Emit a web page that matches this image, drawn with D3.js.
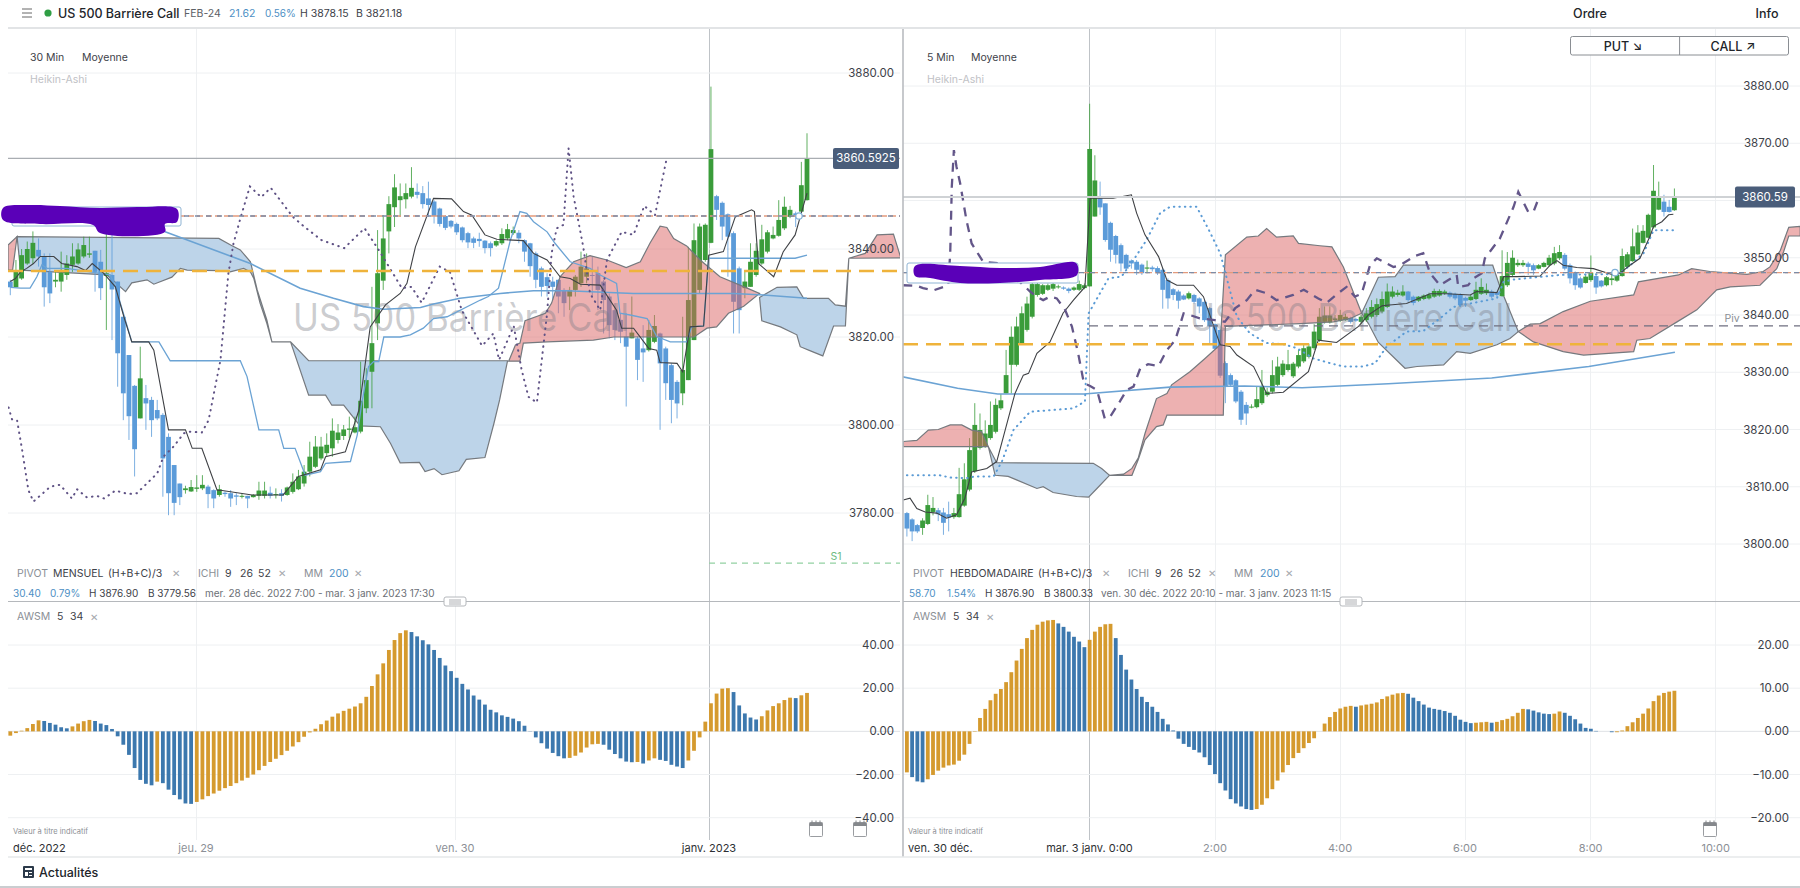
<!DOCTYPE html>
<html lang="fr">
<head>
<meta charset="utf-8">
<title>US 500 Barrière Call</title>
<script src="https://cdn.jsdelivr.net/npm/d3@7.9.0/dist/d3.min.js"></script>
<style>
  html, body { margin: 0; padding: 0; background: #fff; }
  svg { display: block; font-family: Inter, Roboto, sans-serif; }
</style>
</head>
<body>
<svg id="chart" width="1800" height="888"></svg>
<script>
// ---- 30 min pane : heikin-ashi candles [open, close, high, low]
const leftCandles = [
  [3832.6,3831.3,3833,3829.5],[3831.3,3834.8,3837.5,3831.3],[3833.3,3838.6,3840,3833],[3836.7,3840,3841.7,3836.4],
  [3837.9,3841.4,3844,3836.7],[3839.8,3838.3,3842.4,3836],[3838.3,3831.3,3839,3826.9],[3834.8,3829.9,3839,3827.7],
  [3832.6,3833,3834.8,3831.3],[3832.6,3834.6,3839.4,3830.3],[3834.1,3836.7,3838.6,3833],[3836.4,3838.3,3841.3,3834.8],
  [3836.7,3839.9,3841.3,3836.4],[3838.3,3840.9,3842.8,3837.9],[3838.7,3839,3842.8,3838],[3839.6,3834.8,3839.6,3830.3],
  [3837.1,3831.1,3839.8,3828.4],[3833.9,3834.5,3845.5,3821.6],[3834.1,3830.8,3845.8,3819.3],[3832.6,3816.3,3832.6,3808.7],
  [3824.6,3807.2,3824.6,3801.1],[3815.9,3802,3815.9,3796.6],[3808.9,3794.5,3809.1,3788.3],[3801.5,3810.6,3817.8,3801.5],
  [3806.1,3804.9,3809.1,3798.9],[3805.7,3801.1,3806.4,3797.3],[3803.4,3801.5,3805.7,3801.1],[3802.3,3792.4,3802.7,3783.7],
  [3797.3,3784.5,3798.1,3779.5],[3790.9,3782.3,3790.9,3779.5],[3786.7,3783.6,3786.7,3781.8],[3785.2,3785.6,3786.2,3784.4],
  [3784.9,3785.9,3787.5,3784.8],[3785.5,3785.8,3788.6,3784.8],[3785.6,3786.4,3788.6,3785.2],[3786,3784.3,3786.4,3781.1],
  [3785.2,3783.3,3785.4,3781.1],[3784.1,3785.4,3786.4,3783.7],[3784.6,3784.3,3784.9,3783.7],[3784.5,3783.3,3785.2,3781.4],
  [3784,3783.7,3784.5,3781.8],[3783.7,3783.9,3784.5,3783.3],[3783.9,3783.3,3783.9,3781.1],[3783.6,3784.1,3784.3,3783.5],
  [3783.9,3785.1,3787.1,3783],[3783.9,3785.1,3787.1,3783.3],[3784.6,3783.9,3786,3783.3],[3784.1,3784.3,3785.6,3783.3],
  [3784.5,3783.9,3785.4,3782.6],[3784.1,3785.8,3786,3783.9],[3784.8,3787.1,3789,3784.4],[3785.4,3788.3,3789.8,3785.2],
  [3786.7,3789.4,3790.9,3786],[3789.4,3792.8,3796.2,3788.3],[3790.5,3795.1,3797.5,3790.2],[3792.4,3795.1,3797.3,3792],
  [3793.6,3795.5,3798.1,3792.8],[3794.7,3798.7,3801.5,3792.8],[3796.6,3798.3,3800.2,3795.8],[3797.5,3799,3800,3796.6],
  [3798.9,3799.2,3801.9,3797],[3798.3,3799.5,3801.9,3798.1],[3798.5,3805.5,3814.4,3798.1],[3803.8,3810.2,3812.9,3802.7],
  [3812.1,3818.6,3831.4,3803.8],[3823.1,3834.5,3844.3,3819.3],[3832.8,3842.4,3847.7,3830.7],[3844,3850.2,3852,3839],
  [3849.5,3854,3857,3845],[3851.1,3852,3854.9,3847.3],[3851.3,3852.7,3854.9,3849.2],[3851.9,3853.9,3858.6,3851.5],
  [3853,3852.3,3854.9,3851.5],[3852.7,3850.2,3854.3,3849.2],[3851.5,3850,3855.3,3847.3],[3850.8,3847.5,3851.1,3845.8],
  [3849.2,3845.7,3849.4,3845.1],[3847.5,3844.8,3847.7,3844.3],[3846.4,3845.1,3846.6,3844.7],[3845.7,3843.8,3846,3843.2],
  [3844.9,3842,3845.1,3841.5],[3843.6,3841.5,3843.9,3840.2],[3842.4,3841.4,3842.8,3840.2],[3842.3,3841.8,3843.7,3840.5],
  [3841.9,3840.2,3842,3839],[3841.3,3840.2,3841.7,3838.3],[3840.8,3841.8,3842,3840.5],[3841.3,3843.4,3844.7,3840.9],
  [3842.4,3844.5,3845.7,3842],[3843.6,3844.3,3845.1,3843.2],[3843.7,3842.4,3844.3,3841.3],[3842,3839.4,3842.2,3837.1],
  [3841.3,3836.1,3841.4,3833.7],[3839,3833,3839.4,3831.1],[3835.6,3831.4,3836,3829.2],[3833.6,3831.6,3834.5,3829.2],
  [3832.6,3831.4,3833.7,3828.4],[3833,3829.2,3833.1,3825.4],[3830.7,3827.7,3831.1,3824.6],[3829.2,3830.7,3831.4,3826.1],
  [3830.7,3833.7,3834.1,3829.2],[3832.2,3836,3839.4,3831.4],[3833.7,3835.6,3839,3832.2],[3834.1,3833.9,3838.3,3829.2],
  [3834.5,3830.7,3836,3826.1],[3832.6,3828.4,3833,3820.8],[3829.2,3822.7,3829.9,3819.7],[3826.1,3821.6,3827.7,3819.3],
  [3823.9,3821.2,3825.4,3818.6],[3820.1,3817.8,3825.4,3804.2],[3819.7,3821,3829.2,3819.7],[3819.7,3814.8,3820.1,3810.2],
  [3817.4,3816.5,3822.7,3809.8],[3817,3821.6,3823.9,3816.7],[3818.9,3822.5,3825,3818.6],[3820.8,3814,3821,3798.9],
  [3817.4,3809.5,3817.8,3805.7],[3813.6,3805.7,3814,3800.4],[3809.8,3804.9,3810.2,3801.5],[3807.2,3812.5,3824.6,3804.5],
  [3810.2,3828.4,3840.5,3810.2],[3819.3,3842,3845.8,3819.3],[3830.7,3845.1,3845.8,3829.9],[3837.5,3845.5,3845.8,3837.1],
  [3841.4,3862.7,3876.9,3841.3],[3852,3848.9,3852.3,3846.6],[3850.5,3845.1,3850.8,3842],[3847.9,3842.8,3848.1,3833.7],
  [3843.6,3828,3844,3820.8],[3835.6,3826.1,3836,3820.8],[3831.1,3832.6,3834.8,3828.8],[3831.4,3837.1,3841.3,3831.4],
  [3834.1,3839.6,3841.3,3833.7],[3836.7,3842.2,3845.5,3836.4],[3839.4,3843.8,3844.3,3839],[3842.4,3843.2,3845.1,3842.2],
  [3843,3846.6,3851.1,3842.8],[3844.7,3849.6,3851.9,3844.3],[3847.3,3848.9,3849.8,3847],[3848.1,3847.3,3848.5,3845],
  [3848.5,3854.5,3859.8,3848.3],[3851.1,3860.6,3866.3,3851]
];

// ichimoku and average lines, as [bar index, price]
const leftTenkan = [[0,3832.6],[0.9,3833.3],[1.8,3834.8],[2.9,3835.6],[4.1,3836.7],[5.3,3838.3],[7.7,3838.3],[9.1,3836.7],[11.8,3836],[13.3,3835.1],[14.5,3836.7],[16.5,3834.5],[18.6,3831.4],[20.1,3824.6],[21.5,3818.9],[24.5,3818.9],[25.4,3817],[28,3798.9],[31,3798.9],[32.2,3794.7],[33.9,3794.7],[36.6,3785.2],[37.5,3785.1],[42.8,3784.1],[48.3,3784.1],[51,3788.3],[54.9,3789.8],[55.8,3792.8],[59.3,3793.9],[61.7,3803.4],[63.7,3822.3],[66.4,3827.3],[69,3829.9],[70.2,3832.2],[71.7,3840.5],[74.9,3851.5],[78.1,3851.4],[80.2,3848.5],[81.7,3847.7],[84,3843.2],[86.1,3842.2],[90.8,3841.9],[92.6,3839],[95,3837.5],[97.3,3833.7],[99.1,3833.3],[100.9,3832],[104.4,3831.8],[107.3,3826.1],[108.2,3822],[110.3,3822],[113,3817.4],[114.4,3817],[115,3814.2],[118,3814],[119,3812.1],[120.3,3822.3],[122.7,3822.5],[123.6,3838.6],[126.2,3839.4],[128.3,3847.3],[131.2,3848.9],[131.7,3848.5],[132.4,3836.7],[135.1,3833.7],[136.8,3839.4],[138.9,3843.2],[139.8,3847.3],[141,3852.7]];
const leftKijun = [[0,3831.3],[1.8,3831.1],[3.5,3831.1],[4.7,3833.7],[5.6,3836.4],[6.5,3835.6],[10,3835.6],[17.7,3834.1],[18.6,3831.4],[20.1,3825],[21.5,3818.9],[26.3,3818.9],[28.3,3814.6],[40.7,3814.6],[41.9,3811],[44,3798.9],[47.5,3798.9],[48.4,3794.7],[50.4,3794.7],[52.2,3788.6],[54.9,3789.4],[55.8,3791.3],[60.2,3791.7],[61.4,3797.7],[62.2,3804.9],[63.4,3813.3],[64.3,3814.4],[65.2,3814.4],[66.1,3820],[69,3820],[70.8,3820.5],[73.1,3822],[74.9,3824.2],[77.3,3824.6],[83.2,3828.4],[84.6,3829.2],[86.4,3831.1],[88.5,3842],[90.2,3848.5],[91.4,3848.1],[92.6,3846.2],[95,3843.9],[96.4,3841.3],[99.1,3837.1],[102.6,3835.6],[104.4,3834.1],[107.3,3832.2],[107.9,3825.4],[109.7,3825],[112.7,3824.2],[114.4,3820.1],[116.8,3818.9],[119.7,3818.9],[120.6,3822.3],[122.7,3822.5],[123.6,3837.9],[138.9,3837.9],[141,3838.6]];
const leftChikou = [[-0.3,3804],[0.3,3801.3],[1.2,3801.1],[2.1,3794.3],[3.2,3785.2],[4.1,3782.6],[7.1,3786],[8.8,3786.4],[10.9,3783.3],[11.8,3785.4],[13.6,3783.5],[15.3,3783.9],[16.6,3783.3],[18.6,3785.1],[20.9,3784.3],[22.4,3784.5],[26,3789],[27.1,3792.8],[28.9,3795.1],[30.7,3798.1],[31.6,3798.5],[33.9,3798.3],[35.1,3801.1],[37.2,3814.8],[38.6,3834.5],[39.5,3841.3],[40.8,3847.3],[42.4,3854.2],[44.4,3851.8],[46.1,3853.9],[50,3847.3],[52,3845.1],[55.1,3842],[59.1,3840.2],[62.7,3844.7],[65.2,3839.8],[69.3,3831.1],[71,3831.4],[72.8,3827.8],[76,3836],[77.8,3834.8],[79.9,3826.1],[83.5,3818],[85.5,3820.8],[86.5,3814.8],[89.1,3822.5],[90.5,3812.5],[91.7,3806.4],[93.2,3805.1],[95,3825.4],[95.8,3839],[96.7,3844.7],[97.9,3845.5],[98.8,3862.9],[99.7,3851.9],[101.4,3840.5],[102.6,3829.9],[104.4,3826.1],[105.6,3837.5],[108.2,3843.9],[110.3,3843.2],[112.2,3849.8],[114.1,3847.7],[116.1,3860.2]];
const leftMM200 = [[27.4,3843.9],[42.5,3836.7],[51.3,3831.1],[57.2,3828.8],[62.5,3826.9],[66.1,3826.3],[72.6,3826.7],[74.9,3827.5],[79.6,3828.8],[86.7,3829.9],[92.6,3830.5],[98.5,3830.5],[110.3,3829.9],[128,3829.9],[133.9,3829.5],[141,3828.8]];

// cloud patches, upper edge then lower edge
const leftCloudRed1Top = [[-0.4,3840.9],[1.2,3842.8]];
const leftCloudRed1Low = [[-0.4,3835.2],[0.4,3835.2],[1.2,3842.8]];
const leftCloudBlue1Top = [[1.2,3842.8],[36.9,3842.4],[39,3840.9],[40.7,3839.8],[42.5,3837.1],[43.7,3830.7],[45.4,3823.9],[46.3,3818.9],[49.6,3818.9],[52.8,3814.6],[88,3814.6]];
const leftCloudBlue1Low = [[1.2,3842.8],[1.8,3835.2],[17.1,3834.1],[20.4,3830.3],[21.5,3832.3],[24.2,3833],[25.4,3832],[28.6,3833.6],[30.1,3835.6],[31.3,3835.2],[37.2,3835.1],[38.9,3834.8],[41.3,3835.6],[42.5,3834.8],[43.1,3833.3],[44.2,3827.7],[45.4,3823.1],[46.3,3818.9],[49.6,3818.9],[52.8,3806.8],[55.8,3806.8],[56.9,3804.5],[59,3804.5],[61.9,3799.8],[65.5,3799.6],[67.3,3795.8],[69,3791.4],[72.4,3791.5],[73.4,3789.4],[75,3790.1],[76.4,3788.7],[79.4,3789.6],[80.7,3792.2],[84,3792.6],[85.6,3800.4],[86.6,3805.7],[88,3814.6]];
const leftCloudRed2Top = [[88.2,3814.5],[89.4,3818.2],[90.2,3818.6],[91.1,3823.7],[94.7,3825.4],[95.8,3827.7],[97.3,3833.7],[99.7,3837.1],[102.6,3838.5],[105.6,3837.5],[109,3835.8],[111.5,3837.1],[113.2,3841.3],[115,3845.2],[116.2,3844.9],[117.4,3842.4],[119.7,3840.7],[122.1,3837.5],[125.6,3833.7],[130.4,3831.1],[132.6,3829.9]];
const leftCloudRed2Low = [[88.2,3814.5],[90.2,3814.5],[90.8,3818.6],[95,3818.9],[103.2,3819.3],[106.8,3820],[121,3820],[123.3,3822],[125,3822.3],[127.1,3825.4],[129.8,3827],[132.6,3829.9]];
const leftCloudBlue2Top = [[132.6,3829],[135.7,3831.3],[139.2,3831.4],[140.4,3828.8],[144.8,3828.8],[146,3827.3],[147.8,3827]];
const leftCloudBlue2Low = [[132.6,3829],[133,3823.7],[136.3,3822.3],[139.2,3820.5],[139.8,3817.8],[141.5,3816.9],[143.8,3815.7],[145.7,3822.5],[147.8,3822.5],[148.4,3837.9],[147.8,3827]];
const leftCloudRed3Top = [[148.4,3837.9],[151.3,3839],[153.4,3843.2],[156.3,3843.4],[157.6,3838]];
const leftCloudRed3Low = [[148.4,3837.9],[157.6,3838]];

// awesome oscillator under the 30 min pane
const leftAwsm = [-2,-0.8,0.3,1.5,3.4,5.1,4.8,3.9,3.1,1.9,1.4,2.3,3.6,4.7,5.3,4.8,3.6,2.9,1.1,-2.3,-6.2,-10.9,-17,-22.5,-24.3,-25,-23.3,-24,-27,-29.5,-31.5,-33.4,-33.6,-32.7,-31.5,-30,-28.8,-27.5,-26.3,-25.3,-24,-22.8,-21.5,-20,-18,-16,-14.2,-12.7,-11,-9,-7,-5,-2.5,-0.5,1.2,3.3,5,6.8,8.3,9.5,10.5,11.5,13,16,21,26.4,31.5,37.7,42.3,45.5,46.8,46,44,42.2,40.3,37.7,34,30.5,27.9,24.8,22,19.4,16.6,14.7,12.4,10,8.8,7.4,6.7,5.9,4.7,2.6,0.1,-2.8,-5.5,-8,-10,-11.5,-12.5,-12.3,-11.3,-9.8,-7.5,-6,-5.8,-6.2,-8.5,-10.5,-12.5,-14,-14.3,-14.2,-14.9,-13.5,-12.5,-13.2,-13.7,-15.5,-16.3,-17,-13.5,-9,-2.8,4.5,13,17.5,19.8,20,18.2,12,8.3,6.4,5.5,7,9.7,11.7,13,14.5,15.6,15.4,16.7,17.8];

const leftPriceTicks = [3880, 3840, 3820, 3800, 3780];
const leftAwsmTicks = [40, 20, 0, -20, -40];
const leftLastPrice = 3860.5925;
const leftPivot = 3847.5;
const leftOrangeLevel = 3835;
const leftS1 = 3768.6;

// ---- 5 min pane
const rightCandles = [
  [3805.4,3802.7,3805.6,3801.3],[3804.3,3802.2,3804.5,3800.5],[3803.3,3802.2,3803.5,3801.9],[3802.8,3804.1,3804.5,3801.6],
  [3803.5,3806.8,3808.6,3803.3],[3805.6,3806.3,3808.2,3805],[3805.9,3805.2,3806.3,3804],[3805.5,3803.7,3806.3,3801.6],
  [3805.2,3804.6,3807.4,3802.2],[3804.7,3805.4,3806.3,3804.4],[3804.7,3808.7,3813.3,3804.6],[3806.7,3811.3,3814.1,3806.5],
  [3809.5,3816.4,3818.5,3809.2],[3812.7,3820.8,3824.6,3812.4],[3816.8,3819.9,3822.8,3816.5],[3817,3819.3,3821.6,3816.8],
  [3818.5,3820.8,3824.9,3818.2],[3819.6,3824.3,3825.4,3819.3],[3823.7,3825.1,3826.2,3823.4],[3826.3,3829.5,3833.9,3826.3],
  [3831.3,3836.2,3838,3826.3],[3831.3,3838,3839.7,3831],[3835,3840.3,3841.5,3834.8],[3837.4,3842,3843.2,3837.1],
  [3839.7,3845.4,3845.8,3839.4],[3843.5,3845.4,3845.7,3843.2],[3843.7,3845.2,3845.4,3843.5],[3844.4,3845.2,3845.5,3844.2],
  [3844.6,3845.4,3845.7,3844.2],[3844.9,3845,3845.3,3844.6],[3844.8,3844.6,3845,3844.4],[3844.6,3844.2,3844.8,3843.8],
  [3844.4,3844.8,3845,3844.2],[3844.4,3845.4,3846,3844.2],[3844.7,3845.2,3845.5,3844.5],[3845,3869,3876.9,3845],
  [3857.2,3863.5,3867.9,3857.2],[3860.4,3858.8,3863.3,3857.5],[3859.5,3853.1,3859.5,3852.8],[3856.1,3851.4,3856.3,3849.3],
  [3853.8,3850.5,3854,3849],[3852.2,3849,3852.5,3847.6],[3850.5,3848.1,3850.7,3847.9],[3849.5,3849,3849.7,3848.1],
  [3849.3,3847.9,3849.6,3847],[3848.8,3847.3,3849,3847],[3848.1,3848.3,3849.5,3847.3],[3848.3,3848,3848.6,3847.6],
  [3848.2,3847.3,3848.5,3847],[3847.9,3844.4,3848.2,3841.1],[3846.1,3842.9,3846.4,3841.1],[3844.5,3843.5,3844.7,3842.6],
  [3844.1,3842.5,3844.4,3841.1],[3843.4,3842.7,3843.6,3842.6],[3842.9,3843.8,3844.1,3842.7],[3843.5,3842.3,3843.7,3842],
  [3842.9,3841.5,3843.1,3840.3],[3842.3,3839.1,3842.6,3838.8],[3841.2,3838,3841.4,3835.1],[3838.4,3834.1,3838.5,3834.1],
  [3837.4,3829.4,3837.5,3829],[3831.6,3827.5,3831.9,3824.6],[3829.5,3827.8,3829.8,3827.5],[3828.6,3824.9,3828.8,3824.6],
  [3826.6,3821.7,3826.9,3820.8],[3824.3,3822.8,3824.8,3820.8],[3823.9,3824,3824.4,3823.7],[3823.9,3825.3,3827.5,3823.7],
  [3824.6,3827.5,3830.4,3824.3],[3826,3826.6,3827.3,3825.7],[3826.6,3829.5,3832.1,3826.3],[3827.8,3831,3832.7,3827.5],
  [3829.5,3831.5,3832.1,3829.2],[3830.4,3831.4,3833.9,3830.1],[3829.3,3831.5,3831.8,3829],[3831,3833,3833.9,3830.7],
  [3831.9,3834.2,3834.8,3831.6],[3832.7,3834.5,3835,3832.4],[3834.2,3837.1,3838.4,3833.9],[3835.6,3839.7,3841.2,3835.3],
  [3838.8,3839.9,3841.5,3838.5],[3838.7,3839.9,3841.5,3838.5],[3839.1,3839.4,3840,3838.8],[3839,3840,3840.9,3838.8],
  [3839.1,3839.7,3840.2,3839],[3839.5,3838.8,3839.7,3838.5],[3839.3,3839,3839.5,3838.8],[3838.8,3839.7,3840,3838.5],
  [3839.1,3840.3,3841.2,3838.8],[3839.7,3841.4,3842.6,3839.4],[3840,3841.9,3842.9,3839.7],[3840.6,3842.8,3844.1,3840.3],
  [3841.4,3844.1,3845.5,3841.2],[3843.2,3844.1,3845,3842.9],[3843.5,3843.9,3844.4,3843.2],[3843.4,3844.1,3845.2,3843.2],
  [3844.1,3842.6,3844.2,3842.3],[3843.2,3842.1,3843.4,3841.7],[3842.5,3843.2,3843.3,3842.3],[3842.8,3843.4,3843.6,3842.6],
  [3842.9,3843.6,3843.9,3842.7],[3843.2,3844.2,3844.6,3843],[3843.4,3844.2,3844.5,3843.2],[3843.8,3844.1,3844.4,3843.5],
  [3843.9,3843.2,3844.1,3842.9],[3843.7,3842.9,3843.9,3842.6],[3843.5,3841.7,3843.8,3841.4],[3843,3842.5,3843.2,3841.4],
  [3842.6,3843.2,3843.5,3842.5],[3842.8,3844.4,3845.8,3842.6],[3843.7,3844.9,3846.4,3843.5],[3843.8,3844.4,3845.5,3843.5],
  [3844.1,3843.2,3844.4,3842.9],[3843.9,3843.5,3844.1,3843.2],[3843.3,3846.8,3851.3,3843.2],[3845.2,3849.1,3851,3844.9],
  [3847,3850,3851.3,3846.7],[3848.7,3849.1,3849.7,3848.4],[3848.7,3849.1,3849.6,3848.4],[3849,3848.4,3849.3,3847],
  [3848.7,3847.8,3849,3847],[3848.1,3848.7,3848.9,3848],[3848.4,3849.1,3849.3,3848.3],[3848.7,3850,3850.5,3848.5],
  [3849,3850.8,3851.9,3848.7],[3849.9,3851,3852.2,3849.6],[3850.5,3848.1,3850.8,3847.8],[3848.7,3846.4,3849,3845.5],
  [3847.4,3845.2,3847.6,3844.4],[3846.4,3844.8,3846.7,3844.6],[3845.6,3846.7,3847,3845.5],[3846.1,3847.4,3850.4,3845.8],
  [3846.8,3844.8,3847,3843.7],[3846,3845,3846.1,3844.8],[3845.2,3846.6,3846.8,3845],[3846.1,3846.4,3847.3,3845.2],
  [3846,3847,3847.3,3845.8],[3846.8,3850.3,3851.6,3846.7],[3848.4,3850.6,3851,3848.3],[3849.4,3852,3855.1,3849.3],
  [3850.6,3854.4,3855.7,3850.5],[3852.6,3854.7,3855.7,3852.5],[3853.5,3857.5,3857.7,3853.4],[3855.3,3861.7,3866.2,3855.1],
  [3858.4,3860.7,3863.3,3858.3],[3859.8,3858,3861,3857.2],[3858.9,3858,3860.1,3857.9],[3858.3,3860.6,3862.1,3858.2]
];

const rightTenkan = [[-0.7,3807.7],[0.6,3808],[1.9,3806.2],[3.5,3805.6],[5.7,3805.4],[7.6,3804.5],[9.5,3805.1],[11.1,3808],[12.4,3812.6],[15.3,3813.2],[17.2,3814.4],[18.5,3818.8],[20.7,3826.3],[22.3,3829.5],[23.3,3829.8],[24.9,3833.3],[27.4,3835.3],[29.9,3840.3],[31.9,3842.6],[34.1,3844.9],[35.1,3860.4],[39.5,3860.4],[43,3861],[44,3857.8],[45.6,3854],[48.2,3850.2],[49.8,3846.1],[51.7,3845.2],[54.9,3845.2],[56.8,3843.2],[60,3834.8],[61.9,3834.5],[63.2,3833],[66.4,3831],[68.9,3826.3],[72.1,3826.5],[76.9,3830.1],[78.8,3835.6],[82.3,3835.2],[86.5,3838],[88.4,3840],[91,3841.6],[91.9,3841.7],[95.7,3842],[100.2,3843.7],[103.4,3843.7],[107.9,3843.5],[109.1,3844.1],[113,3843.9],[114.3,3846.7],[116.8,3846.7],[121.3,3846.8],[123.2,3848.7],[124.5,3849.5],[125.7,3848.7],[128.3,3848.3],[131.5,3848.1],[135.3,3847],[136.6,3847.3],[138.5,3848.7],[140.4,3849.9],[142.3,3853.7],[143,3855.5],[144.6,3856.3],[145.9,3857.5],[146.8,3857.6]];
const rightKijun = [[0,3812],[6.3,3812],[8.3,3811.6],[11.4,3811.5],[13,3811.8],[16.6,3811.8],[18.2,3814.4],[20.4,3819.9],[23.6,3823.1],[31.9,3823.7],[34.1,3824.9],[34.8,3840.3],[38.6,3846.4],[41.1,3846.7],[43.4,3849.6],[45.9,3853.1],[48.5,3857.8],[50.4,3858.9],[55.5,3858.9],[57.7,3855.1],[60,3850.8],[61,3847.3],[63.2,3839.7],[65.7,3836.8],[68.9,3835.1],[72.1,3834.9],[74.7,3834.2],[77.9,3832.4],[81,3831.6],[83.6,3831],[87.4,3831],[89.7,3831.6],[91.9,3834.5],[95.7,3837.1],[98.9,3837.2],[102.1,3839.4],[104.7,3841.4],[107.9,3842],[113,3842.9],[114.3,3845.8],[116.2,3846.2],[125.1,3847],[131.5,3847.1],[136,3847.1],[138.2,3848.4],[141.1,3850.8],[143,3854.8],[146.8,3854.8]];
const rightChikou = [[-0.7,3845.2],[1.9,3845.1],[3.1,3844.7],[5.1,3844.3],[7.9,3845.2],[8.3,3850.8],[8.6,3862.4],[9,3868.8],[9.5,3865.9],[10.2,3863],[11.4,3856.6],[12.4,3852.5],[14.6,3849.3],[17.8,3849],[23.6,3844.1],[24.9,3843.2],[26.1,3842.6],[27.4,3843.2],[28.7,3842.9],[30.3,3840.9],[31.6,3838],[32.8,3833.3],[33.9,3828.1],[35.1,3827.6],[36.4,3826.9],[37.9,3821.9],[38.9,3822.2],[40.8,3824.9],[42.1,3826.9],[43.4,3827.5],[44.7,3830.7],[46.2,3831.4],[48.2,3831.1],[49.8,3833.9],[51.4,3835.6],[53,3840.3],[54.2,3840],[56.1,3839.4],[59,3839.1],[60.9,3838.8],[62.9,3841.2],[65.1,3842.6],[66.7,3844.4],[68.9,3843.8],[70.8,3842.6],[74,3843.5],[76,3844.4],[78.8,3842.9],[80.4,3842.1],[82.6,3843.8],[84.2,3844.9],[85.8,3843.2],[87.1,3843.7],[88.7,3848.7],[90,3849.9],[93.2,3848.4],[94.5,3848.7],[97.3,3850.3],[98.9,3850.8],[100.2,3847.3],[102.1,3845.2],[105.3,3847],[105.6,3844.9],[107.5,3845.2],[108.5,3846.4],[110.1,3847.3],[110.7,3849.9],[113.6,3853.4],[116.2,3858.9],[117.1,3861.5],[119,3858],[120,3858],[121,3860.4]];
const rightMM200 = [[-0.8,3829.2],[9.7,3827.2],[17.4,3826.2],[33.9,3826.2],[50.4,3827.4],[64.7,3827.6],[75.7,3827.3],[92.2,3828],[112,3829],[130.6,3831],[147.1,3833.5]];

const rightCloudRed1Top = [[-0.7,3817.9],[1.9,3818.1],[4.1,3819.9],[6,3820],[8.3,3820.8],[10.5,3820.8],[12.4,3819.9],[14.3,3819.6],[15.6,3817]];
const rightCloudRed1Low = [[-0.7,3817],[15.6,3817]];
const rightCloudBlue1Top = [[15.6,3817],[17.2,3814.2],[35.7,3814.1],[37.3,3813.2],[38.8,3812]];
const rightCloudBlue1Low = [[15.6,3817],[16.9,3812],[19.4,3811.8],[21,3811.2],[24.9,3809.7],[26.1,3810],[28,3809],[32.5,3808.3],[34.8,3808.2],[36.4,3809.7],[38.8,3812]];
const rightCloudRed2Top = [[38.8,3812],[41.5,3812.2],[43.1,3813.2],[44.3,3815],[45.6,3819.3],[47.8,3825.4],[49.8,3826.3],[50.7,3827.8],[54.2,3830.1],[57.1,3832.4],[60,3834.8],[61,3850.5],[65.1,3853.6],[67.3,3853.8],[68.9,3855.1],[70.8,3853.6],[74,3853.8],[75,3852.5],[79.1,3852.1],[81.4,3851.9],[83.6,3848.4],[87.1,3840.3]];
const rightCloudRed2Low = [[38.8,3812],[43.1,3812],[44.3,3814.7],[45.6,3818.2],[47.8,3820.5],[49.1,3820.8],[49.8,3822.5],[60.6,3822.5],[61,3838],[75.3,3838.5],[81.7,3838.8],[84.9,3839.4],[87.1,3840.3]];
const rightCloudBlue2Top = [[87.1,3840.3],[90.3,3846.6],[93.5,3846.7],[95.1,3848.7],[112.2,3848.7],[113.6,3844.9],[117.1,3837.1]];
const rightCloudBlue2Low = [[87.1,3840.3],[88.4,3838.5],[90.3,3835.2],[95.4,3830.7],[97.7,3831],[102.8,3831.3],[105.3,3833.6],[107.9,3833.3],[113,3834.8],[115.5,3835.9],[117.1,3837.1]];
const rightCloudRed3Top = [[117.1,3837.1],[119.4,3838.4],[121.3,3838.5],[125.7,3840.6],[130.9,3842.4],[139.2,3843.5],[140.1,3845.8],[147.8,3847],[150.3,3848.1],[153.8,3847.6],[160.9,3847.1],[164,3847.6],[165.3,3848.4],[167.3,3851.3],[168.9,3855.3],[171.1,3855.5]];
const rightCloudRed3Low = [[117.1,3837.1],[120,3835.3],[125.7,3833.6],[129.6,3833],[139.2,3833.6],[139.8,3835.6],[142.3,3835.9],[147.5,3838.8],[151.3,3840.9],[155.1,3844.4],[157.7,3844.9],[163.4,3845.2],[166.6,3848.1],[167.9,3851],[168.9,3853.8],[171.1,3853.8]];

const rightAwsm = [-9.5,-10.6,-11.6,-11.8,-11.1,-10.1,-9.1,-8.4,-7.9,-7.7,-6.8,-5.4,-2.9,-0.1,3.1,5.2,7.2,8.7,9.8,11.4,13.7,16.4,19.1,21.6,23.5,24.7,25.4,25.7,25.8,25,24.2,23.1,21.9,20.8,19.5,21.2,23.1,24.2,24.8,24.9,21.6,17.7,14.3,12,9.8,8,6.8,5.7,4.5,2.9,1.6,0.2,-1.7,-2.9,-3.6,-4.3,-4.9,-6,-7.8,-9.9,-12,-13.7,-15.7,-16.7,-17.4,-18,-18.2,-18,-17,-15.5,-13.4,-11.4,-9.5,-7.8,-6.2,-5,-3.9,-2.7,-1.6,0,1.8,3.3,4.5,5.3,5.7,5.9,5.7,6,6.2,6.4,6.7,7.5,8.1,8.5,8.8,8.9,8.7,7.8,7,6.2,5.5,5.2,5,4.7,4.3,3.6,2.7,2.2,1.9,2,2.1,2.2,2,2.2,2.6,2.9,3.5,4.3,5.2,5.1,4.8,4.4,4.1,4,4.1,4.6,4.3,3.6,2.8,1.8,0.8,0.6,0.1,0,0,-0.2,-0.2,0.2,1.2,2.1,3.1,4.1,5.3,7,8.3,8.9,9.2,9.4];

const rightPriceTicks = [3880, 3870, 3850, 3840, 3830, 3820, 3810, 3800];
const rightAwsmTicks = [20, 10, 0, -10, -20];
const rightLastPrice = 3860.59;
const rightPivot = 3847.4;
const rightOrangeLevel = 3834.9;
const rightPiv = 3838.1;

// time axis labels
const leftDateLabels = [['jeu. 29', 196, false], ['ven. 30', 455, false], ['janv. 2023', 709, true]];
const rightDateLabels = [['mar. 3 janv. 0:00', 1089.5, true], ['2:00', 1215, false], ['4:00', 1340, false], ['6:00', 1465, false], ['8:00', 1590.6, false], ['10:00', 1715.7, false]];

const GREEN = '#3a9c3a', BLUE = '#5b9bd9', GOLD = '#d59a2e', BAR_BLUE = '#3c78ae';
const CLOUD_RED = 'rgba(220,100,100,0.5)', CLOUD_BLUE = '#bdd4e9', CLOUD_EDGE = '#75797e';
const LABEL = '#3d4148', MUTED = '#8b8f96', STAT = '#4d8fc4', CROSS = '#a4a8ad';

const svg = d3.select('#chart');

function text(sel, x, y, str, opts = {}) {
  return sel.append('text')
    .attr('x', x).attr('y', y)
    .attr('font-size', opts.size || 11)
    .attr('font-weight', opts.weight || 400)
    .attr('fill', opts.fill || LABEL)
    .attr('text-anchor', opts.anchor || 'start')
    .attr('dominant-baseline', 'central')
    .text(str);
}

function calendar(sel, x, y) {
  sel.append('rect').attr('x', x - 6.5).attr('y', y - 6.5).attr('width', 13).attr('height', 14).attr('fill', '#fff').attr('stroke', '#9a9da1').attr('rx', 1);
  sel.append('rect').attr('x', x - 6.5).attr('y', y - 6.5).attr('width', 13).attr('height', 3.5).attr('fill', '#85888c');
  [-4, 0, 4].forEach((dx) => sel.append('line').attr('x1', x + dx).attr('x2', x + dx).attr('y1', y - 8.5).attr('y2', y - 5).attr('stroke', '#85888c'));
}

// legends keep their little crosses centred on the place they were read from
function legendRow(g, rows, y, size) {
  rows.forEach((d) => {
    if (d[1] === '✕') text(g, d[0], y, d[1], { size: 10, fill: CROSS, anchor: 'middle' });
    else text(g, d[0], y, d[1], { size: size, fill: d[2] || LABEL });
  });
}

// draws one pane : price chart with clouds plus the oscillator below
function drawPane(p) {
  const g = svg.append('g');
  const x = d3.scaleLinear().domain([0, p.candles.length - 1]).range(p.xRange);
  const y = d3.scaleLinear().domain(p.yDomain).range(p.yRange);
  const yOsc = d3.scaleLinear().domain(p.oscDomain).range(p.oscRange);

  const clipId = 'clip' + p.name;
  svg.append('clipPath').attr('id', clipId).append('rect')
    .attr('x', p.left).attr('y', 28).attr('width', p.right - p.left).attr('height', 574);
  const plot = g.append('g').attr('clip-path', `url(#${clipId})`);

  // grid
  const grid = g.insert('g', ':first-child');
  p.gridX.forEach((gx) => {
    grid.append('line').attr('x1', gx).attr('x2', gx).attr('y1', 28).attr('y2', 840).attr('stroke', '#eef0f2');
  });
  grid.append('line').attr('x1', p.strongX).attr('x2', p.strongX).attr('y1', 28).attr('y2', 840).attr('stroke', '#bfc3c7');
  const allTicks = p.priceTicks.concat(p.hiddenTicks || []);
  allTicks.forEach((t) => {
    grid.append('line').attr('x1', p.left).attr('x2', p.right).attr('y1', y(t)).attr('y2', y(t)).attr('stroke', '#eef0f2');
  });
  p.oscTicks.forEach((t) => {
    grid.append('line').attr('x1', p.left).attr('x2', p.right).attr('y1', yOsc(t)).attr('y2', yOsc(t)).attr('stroke', t === 0 ? '#dfe2e5' : '#eef0f2');
  });

  const line = d3.line().x((d) => x(d[0])).y((d) => y(d[1]));
  const cloud = (top, low, fill) => {
    plot.append('path')
      .attr('d', line(top.concat(low.slice().reverse())) + 'Z')
      .attr('fill', fill).attr('stroke', CLOUD_EDGE).attr('stroke-width', 1.2);
  };

  // blue clouds sit under the candles, the red ones tint them
  p.blueClouds.forEach((c) => cloud(c[0], c[1], CLOUD_BLUE));

  // wicks and bodies
  plot.selectAll('line.wick').data(p.candles).join('line')
    .attr('class', 'wick')
    .attr('x1', (d, i) => x(i)).attr('x2', (d, i) => x(i))
    .attr('y1', (d) => y(d[2])).attr('y2', (d) => y(d[3]))
    .attr('stroke', (d) => (d[1] >= d[0] ? GREEN : BLUE))
    .attr('stroke-opacity', 0.8);
  plot.selectAll('rect.body').data(p.candles).join('rect')
    .attr('class', 'body')
    .attr('x', (d, i) => x(i) - 2.4).attr('width', 4.8)
    .attr('y', (d) => y(Math.max(d[0], d[1])))
    .attr('height', (d) => Math.max(1, Math.abs(y(d[0]) - y(d[1]))))
    .attr('fill', (d) => (d[1] >= d[0] ? GREEN : BLUE));

  p.redClouds.forEach((c) => cloud(c[0], c[1], CLOUD_RED));

  // watermark shows through everything
  text(plot, p.watermarkX, 317, 'US 500 Barrière Call', { size: 38, fill: 'rgba(120,122,132,0.38)' })
    .attr('textLength', p.watermarkW).attr('lengthAdjust', 'spacingAndGlyphs');

  // indicator lines
  const stroke = (pts, color, width, dash, cap) => {
    plot.append('path').attr('d', line(pts)).attr('fill', 'none')
      .attr('stroke', color).attr('stroke-width', width)
      .attr('stroke-dasharray', dash || null)
      .attr('stroke-linecap', cap || 'butt');
  };
  stroke(p.mm200, '#6ba3d4', 1.6);
  stroke(p.kijun, p.kijunStyle.color, p.kijunStyle.width, p.kijunStyle.dash, p.kijunStyle.cap);
  stroke(p.tenkan, '#3f4145', 1.1);
  stroke(p.chikou, p.chikouStyle.color, p.chikouStyle.width, p.chikouStyle.dash, p.chikouStyle.cap);

  // horizontal levels
  const hline = (v, color, width, dash, x1) => {
    plot.append('line').attr('x1', x1 === undefined ? p.left : x1).attr('x2', p.right)
      .attr('y1', y(v)).attr('y2', y(v)).attr('stroke', color)
      .attr('stroke-width', width).attr('stroke-dasharray', dash || null);
  };
  hline(p.last, p.lastColor, p.lastWidth);
  hline(p.pivot, '#e39a7c', 1.4, '6 3');
  hline(p.pivot, '#7c8ca6', 1.4, '5 6');
  hline(p.orange, '#efb33b', 2.6, '15 8');
  if (p.extraLevels) p.extraLevels(hline, y);

  // small marker where the last pivot meets the average
  plot.append('circle').attr('cx', p.markerX).attr('cy', y(p.pivot)).attr('r', 3.2)
    .attr('fill', '#fff').attr('stroke', '#7fb0d8').attr('stroke-width', 1.2);

  // price axis
  p.priceTicks.forEach((t) => {
    text(g, p.axisX, y(t), d3.format('.2f')(t), { anchor: 'end', size: 11.5 });
  });
  g.append('rect').attr('x', p.lastBox[0]).attr('y', y(p.last) - 10.5).attr('width', p.lastBox[1]).attr('height', 21).attr('rx', 2).attr('fill', '#4a5d7a');
  text(g, p.lastBox[0] + p.lastBox[1] / 2, y(p.last), p.lastLabel, { anchor: 'middle', fill: '#fff', size: 11.5 });

  // oscillator, gold when it rises and blue when it falls
  g.selectAll('rect.awsm').data(p.awsm).join('rect')
    .attr('class', 'awsm')
    .attr('x', (d, i) => x(i) - 1.9).attr('width', 3.8)
    .attr('y', (d) => Math.min(yOsc(d), yOsc(0)))
    .attr('height', (d) => Math.abs(yOsc(d) - yOsc(0)))
    .attr('fill', (d, i) => (i === 0 || d >= p.awsm[i - 1] ? GOLD : BAR_BLUE));
  p.oscTicks.forEach((t) => {
    text(g, p.axisX, yOsc(t), d3.format('.2f')(t), { anchor: 'end', size: 11.5 });
  });

  // pane separator with handle
  g.append('line').attr('x1', p.left).attr('x2', p.right).attr('y1', 601.5).attr('y2', 601.5).attr('stroke', '#b5b8bc').attr('stroke-width', 1.2);
  g.append('rect').attr('x', p.handleX - 11).attr('y', 597).attr('width', 22).attr('height', 9).attr('rx', 2).attr('fill', '#fff').attr('stroke', '#b5b8bc');
  [600, 602, 604].forEach((hy) => g.append('line').attr('x1', p.handleX - 6).attr('x2', p.handleX + 6).attr('y1', hy).attr('y2', hy).attr('stroke', '#8a8e93').attr('stroke-width', 0.7));

  // texts
  text(g, p.left + p.titleDx, 57, p.interval, { size: 10.5 });
  text(g, p.moyenneX, 57, 'Moyenne', { size: 10.5 });
  text(g, p.left + p.titleDx, 79, 'Heikin-Ashi', { size: 10.5, fill: '#bfc2c6' });
  legendRow(g, p.legend, 573, 10.5);
  legendRow(g, p.stats, 592.5, 10);
  legendRow(g, p.awsmLabel, 616.5, 10.5);
  text(g, p.left + 5, 831.5, 'Valeur à titre indicatif', { size: 7.5, fill: '#8d9095' });
  text(g, p.left + 5, 848, p.firstDate, { size: 11, fill: '#2c2f33' });
  p.dateLabels.forEach((d) => text(g, d[1], 848, d[0], { size: 11, anchor: 'middle', fill: d[2] ? '#2c2f33' : MUTED }));
  p.calendars.forEach((cx) => calendar(g, cx, 829));
}

drawPane({
  name: 'left', left: 8, right: 900, titleDx: 22, moyenneX: 82,
  candles: leftCandles, awsm: leftAwsm, tenkan: leftTenkan, kijun: leftKijun, chikou: leftChikou, mm200: leftMM200,
  xRange: [10.3, 807], yDomain: [3780, 3880], yRange: [513, 73],
  oscDomain: [-40, 40], oscRange: [817.7, 645],
  priceTicks: leftPriceTicks, oscTicks: leftAwsmTicks,
  gridX: [196.5, 455.5], strongX: 709.5, axisX: 894,
  blueClouds: [[leftCloudBlue1Top, leftCloudBlue1Low], [leftCloudBlue2Top, leftCloudBlue2Low]],
  redClouds: [[leftCloudRed1Top, leftCloudRed1Low], [leftCloudRed2Top, leftCloudRed2Low], [leftCloudRed3Top, leftCloudRed3Low]],
  kijunStyle: { color: '#6ba3d4', width: 1.3 },
  chikouStyle: { color: '#5f5285', width: 2, dash: '0.5 5.5', cap: 'round' },
  last: leftLastPrice, lastLabel: '3860.5925', lastColor: '#a9adb2', lastWidth: 1.2,
  lastBox: [833, 66], pivot: leftPivot, orange: leftOrangeLevel, markerX: 799,
  watermarkX: 293, watermarkW: 336, handleX: 455,
  extraLevels: (hline, y) => {
    hline(leftS1, '#93d1a2', 1.2, '6 5', 709);
    text(svg, 836, y(leftS1) - 7, 'S1', { size: 10.5, fill: '#6dbb80', anchor: 'middle' });
  },
  interval: '30 Min',
  legend: [[17, 'PIVOT', MUTED], [53, 'MENSUEL'], [108, '(H+B+C)/3'], [176, '✕'], [198, 'ICHI', MUTED], [225, '9'], [240, '26'], [258, '52'], [282, '✕'], [304, 'MM', MUTED], [329, '200', STAT], [358, '✕']],
  stats: [[13, '30.40', STAT], [50, '0.79%', STAT], [89, 'H 3876.90'], [148, 'B 3779.56'], [205, 'mer. 28 déc. 2022 7:00 - mar. 3 janv. 2023 17:30', '#6c7076']],
  awsmLabel: [[17, 'AWSM', MUTED], [57, '5'], [70, '34'], [94, '✕']],
  firstDate: 'déc. 2022', dateLabels: leftDateLabels, calendars: [816, 860]
});

drawPane({
  name: 'right', left: 903, right: 1800, titleDx: 24, moyenneX: 971,
  candles: rightCandles, awsm: rightAwsm, tenkan: rightTenkan, kijun: rightKijun, chikou: rightChikou, mm200: rightMM200,
  xRange: [906.9, 1674.4], yDomain: [3800, 3880], yRange: [544, 86],
  oscDomain: [-20, 20], oscRange: [817.7, 645],
  priceTicks: rightPriceTicks, hiddenTicks: [3860], oscTicks: rightAwsmTicks,
  gridX: [1215.5, 1340.5, 1465.5, 1590.5, 1715.5], strongX: 1089.5, axisX: 1789,
  blueClouds: [[rightCloudBlue1Top, rightCloudBlue1Low], [rightCloudBlue2Top, rightCloudBlue2Low]],
  redClouds: [[rightCloudRed1Top, rightCloudRed1Low], [rightCloudRed2Top, rightCloudRed2Low], [rightCloudRed3Top, rightCloudRed3Low]],
  kijunStyle: { color: '#5b9bd5', width: 2, dash: '0.5 5', cap: 'round' },
  chikouStyle: { color: '#635689', width: 2.3, dash: '9 7' },
  last: rightLastPrice, lastLabel: '3860.59', lastColor: '#cfd2d5', lastWidth: 2,
  lastBox: [1735, 60], pivot: rightPivot, orange: rightOrangeLevel, markerX: 1615,
  watermarkX: 1190, watermarkW: 322, handleX: 1351,
  extraLevels: (hline, y) => {
    hline(rightPiv, '#6f6f80', 1.3, '9 6', 1089);
    text(svg, 1732, y(rightPiv) - 7, 'Piv', { size: 10.5, fill: MUTED, anchor: 'middle' });
  },
  interval: '5 Min',
  legend: [[913, 'PIVOT', MUTED], [950, 'HEBDOMADAIRE'], [1038, '(H+B+C)/3'], [1106, '✕'], [1128, 'ICHI', MUTED], [1155, '9'], [1170, '26'], [1188, '52'], [1212, '✕'], [1234, 'MM', MUTED], [1260, '200', STAT], [1289, '✕']],
  stats: [[909, '58.70', STAT], [947, '1.54%', STAT], [985, 'H 3876.90'], [1044, 'B 3800.33'], [1101, 'ven. 30 déc. 2022 20:10 - mar. 3 janv. 2023 11:15', '#6c7076']],
  awsmLabel: [[913, 'AWSM', MUTED], [953, '5'], [966, '34'], [990, '✕']],
  firstDate: 'ven. 30 déc.', dateLabels: rightDateLabels, calendars: [1710]
});

// pane border
svg.append('line').attr('x1', 903).attr('x2', 903).attr('y1', 28).attr('y2', 857).attr('stroke', '#b9bcc0').attr('stroke-width', 1.6);

// label boxes hidden under the purple scribble
const boxes = [[12, 207, 169, 19], [907, 263, 171, 20]];
boxes.forEach((b) => {
  svg.append('rect').attr('x', b[0]).attr('y', b[1]).attr('width', b[2]).attr('height', b[3]).attr('rx', 2)
    .attr('fill', '#fff').attr('stroke', '#8fb4d4');
});
const scribbles = [
  [[3, 208], [30, 205], [60, 206], [100, 208], [140, 207], [177, 209], [177, 222], [165, 224], [165, 232], [100, 233], [93, 225], [40, 224], [3, 220]],
  [[915, 266], [960, 266], [1000, 268], [1040, 267], [1076, 263], [1077, 275], [1040, 280], [1000, 283], [960, 283], [930, 278], [915, 276]]
];
const scribbleLine = d3.line().curve(d3.curveCatmullRomClosed);
scribbles.forEach((s) => svg.append('path').attr('d', scribbleLine(s)).attr('fill', '#5a00b8'));

// top bar
svg.append('line').attr('x1', 8).attr('x2', 1800).attr('y1', 28).attr('y2', 28).attr('stroke', '#e2e4e6').attr('stroke-width', 2);
[9, 13, 17].forEach((hy) => svg.append('line').attr('x1', 22).attr('x2', 32).attr('y1', hy).attr('y2', hy).attr('stroke', '#666'));
svg.append('circle').attr('cx', 48).attr('cy', 13).attr('r', 3.6).attr('fill', '#2f9e44');
text(svg, 58, 13, 'US 500 Barrière Call', { size: 12.5, weight: 500, fill: '#22252a' });
text(svg, 184, 13, 'FEB-24', { size: 10.5, fill: '#5c6066' });
text(svg, 229, 13, '21.62', { size: 10.5, fill: STAT });
text(svg, 265, 13, '0.56%', { size: 10, fill: STAT });
text(svg, 300, 13, 'H 3878.15', { size: 10.5 });
text(svg, 356, 13, 'B 3821.18', { size: 10.5 });
text(svg, 1590, 13, 'Ordre', { size: 12.5, weight: 500, anchor: 'middle', fill: '#22252a' });
text(svg, 1767, 13, 'Info', { size: 12.5, weight: 500, anchor: 'middle', fill: '#22252a' });

// put / call buttons
svg.append('rect').attr('x', 1570.5).attr('y', 36.5).attr('width', 218).attr('height', 18.5).attr('rx', 2).attr('fill', '#fff').attr('stroke', '#8a8e93');
svg.append('line').attr('x1', 1679.6).attr('x2', 1679.6).attr('y1', 36.5).attr('y2', 55).attr('stroke', '#8a8e93');
text(svg, 1623, 46, 'PUT ↘', { size: 12.5, weight: 500, anchor: 'middle', fill: '#22252a' });
text(svg, 1733, 46, 'CALL ↗', { size: 12.5, weight: 500, anchor: 'middle', fill: '#22252a' });

// footer
svg.append('line').attr('x1', 8).attr('x2', 1800).attr('y1', 857).attr('y2', 857).attr('stroke', '#e6e8ea').attr('stroke-width', 1.4);
svg.append('rect').attr('x', 23).attr('y', 866).attr('width', 11).attr('height', 12).attr('rx', 1).attr('fill', '#2c3a4a');
svg.append('rect').attr('x', 25).attr('y', 868).attr('width', 7).attr('height', 2).attr('fill', '#fff');
svg.append('rect').attr('x', 25).attr('y', 872).attr('width', 3).attr('height', 4).attr('fill', '#fff');
svg.append('rect').attr('x', 29).attr('y', 872).attr('width', 3).attr('height', 1).attr('fill', '#fff');
svg.append('rect').attr('x', 29).attr('y', 875).attr('width', 3).attr('height', 1).attr('fill', '#fff');
text(svg, 39, 872, 'Actualités', { size: 12.5, weight: 500, fill: '#22252a' });
svg.append('line').attr('x1', 0).attr('x2', 1800).attr('y1', 887).attr('y2', 887).attr('stroke', '#b9bcc0').attr('stroke-width', 1.4);
</script>
</body>
</html>
